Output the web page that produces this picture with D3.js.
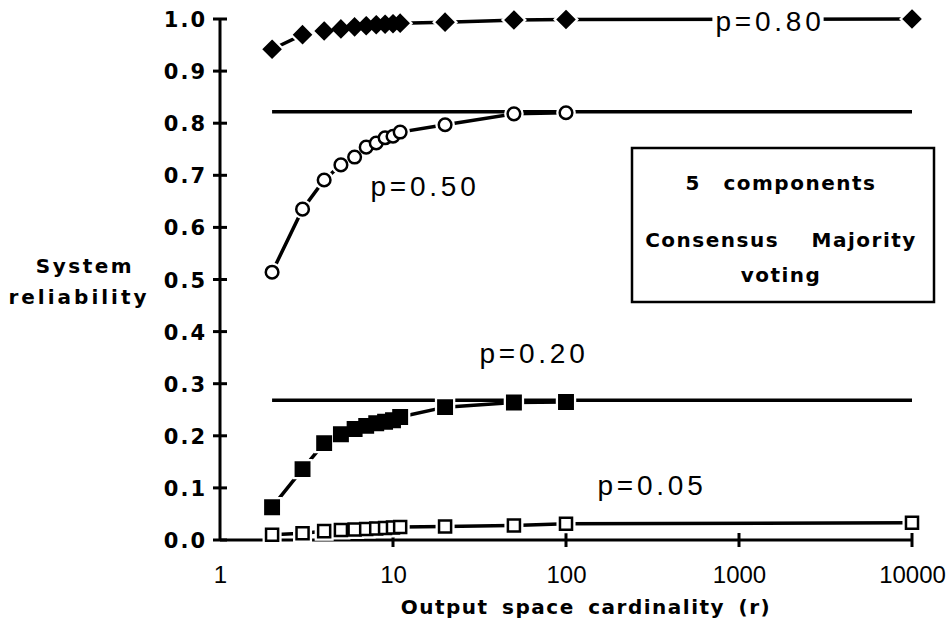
<!DOCTYPE html>
<meta charset="utf-8">
<script src="https://d3js.org/d3.v7.js"></script>
<style>
  body { margin: 0; background: #fff; }
  svg text { fill: #000; }
</style>
<body>
<div id="chart"></div>
<script>
  // output space cardinality values
  const rShort = [2, 3, 4, 5, 6, 7, 8, 9, 10, 11, 20, 50, 100];
  const rLong = [2, 3, 4, 5, 6, 7, 8, 9, 10, 11, 20, 50, 100, 10000];

  const p80 = [0.942, 0.970, 0.977, 0.981, 0.985, 0.987, 0.989, 0.990, 0.991, 0.992, 0.994, 0.998, 0.999, 1.0];
  const p50 = [0.514, 0.635, 0.691, 0.720, 0.735, 0.754, 0.762, 0.772, 0.775, 0.783, 0.797, 0.818, 0.820];
  const p20 = [0.063, 0.136, 0.186, 0.203, 0.213, 0.219, 0.224, 0.227, 0.230, 0.236, 0.255, 0.264, 0.265];
  const p05 = [0.010, 0.013, 0.017, 0.019, 0.020, 0.021, 0.022, 0.023, 0.024, 0.025, 0.026, 0.028, 0.031, 0.033];

  // limit lines
  const limitR = [2, 10000];
  const limits = [0.822, 0.268];

  const xTicks = [1, 10, 100, 1000, 10000];
  const yTicks = [0, 0.1, 0.2, 0.3, 0.4, 0.5, 0.6, 0.7, 0.8, 0.9, 1.0];

  const width = 952, height = 624;

  const svg = d3.select("#chart").append("svg")
    .attr("width", width)
    .attr("height", height);

  const x = d3.scaleLog().domain([1, 10000]).range([220, 912]);
  const y = d3.scaleLinear().domain([0, 1]).range([540, 19]);

  const font = "Liberation Sans, Arial, sans-serif";
  const boldFont = "DejaVu Sans, sans-serif";

  // axes
  const yAxis = svg.append("g").attr("transform", "translate(220,0)")
    .call(d3.axisLeft(y).tickValues(yTicks).tickSize(0).tickPadding(13)
      .tickFormat(d3.format(".1f")));
  yAxis.select(".domain").remove();
  yAxis.selectAll("text")
    .style("font-family", boldFont)
    .style("font-weight", "bold")
    .style("font-size", "21px")
    .style("letter-spacing", "2px")
    .attr("dy", "0.36em");

  svg.append("line")
    .attr("x1", 220).attr("x2", 220)
    .attr("y1", y(1)).attr("y2", y(0))
    .attr("stroke", "#000").attr("stroke-width", 3);
  svg.selectAll(".ytick").data(yTicks).join("line")
    .attr("x1", 213).attr("x2", 227)
    .attr("y1", d => y(d)).attr("y2", d => y(d))
    .attr("stroke", "#000").attr("stroke-width", 3);

  const xAxis = svg.append("g").attr("transform", "translate(0,540)")
    .call(d3.axisBottom(x).tickValues(xTicks).tickSize(0).tickPadding(26)
      .tickFormat(d3.format("d")));
  xAxis.select(".domain").remove();
  xAxis.selectAll("text")
    .style("font-family", font)
    .style("font-size", "24px");

  svg.append("line")
    .attr("x1", 220).attr("x2", x(10000))
    .attr("y1", 540).attr("y2", 540)
    .attr("stroke", "#000").attr("stroke-width", 3);
  svg.selectAll(".xtick").data(xTicks.slice(1)).join("line")
    .attr("x1", d => x(d)).attr("x2", d => x(d))
    .attr("y1", 533).attr("y2", 547)
    .attr("stroke", "#000").attr("stroke-width", 3);

  // axis titles
  function boldText(sel) {
    return sel.style("font-family", boldFont).style("font-weight", "bold").style("font-size", "20px");
  }

  boldText(svg.append("text").attr("x", 85).attr("y", 273).attr("text-anchor", "middle")
    .style("letter-spacing", "2.5px").text("System"));
  boldText(svg.append("text").attr("x", 79).attr("y", 304).attr("text-anchor", "middle")
    .style("letter-spacing", "3px").text("reliability"));
  boldText(svg.append("text").attr("x", 586).attr("y", 614).attr("text-anchor", "middle")
    .style("letter-spacing", "1.5px").style("word-spacing", "5px")
    .text("Output space cardinality (r)"));

  // limit lines
  limits.forEach(v => {
    svg.append("line")
      .attr("x1", x(limitR[0])).attr("x2", x(limitR[1]))
      .attr("y1", y(v)).attr("y2", y(v))
      .attr("stroke", "#000").attr("stroke-width", 3.5);
  });

  // series
  const series = [
    { r: rLong, v: p80, shape: d3.symbolDiamond2, size: 165, fill: "#000" },
    { r: rShort, v: p50, shape: d3.symbolCircle, size: 125, fill: "#fff" },
    { r: rShort, v: p20, shape: d3.symbolSquare, size: 180, fill: "#000" },
    { r: rLong, v: p05, shape: d3.symbolSquare, size: 145, fill: "#fff" }
  ];

  const line = d3.line().x(d => x(d[0])).y(d => y(d[1]));

  series.forEach(s => {
    const pts = s.r.map((r, i) => [r, s.v[i]]);
    svg.append("path")
      .attr("d", line(pts))
      .attr("fill", "none")
      .attr("stroke", "#000")
      .attr("stroke-width", 3.5);
    const sym = d3.symbol().type(s.shape).size(s.size);
    // white halo so the line stops short of each marker
    svg.append("g").selectAll("path").data(pts).join("path")
      .attr("d", sym)
      .attr("transform", d => `translate(${x(d[0])},${y(d[1])})`)
      .attr("fill", "#fff").attr("stroke", "#fff").attr("stroke-width", 7);
    svg.append("g").selectAll("path").data(pts).join("path")
      .attr("d", sym)
      .attr("transform", d => `translate(${x(d[0])},${y(d[1])})`)
      .attr("fill", s.fill).attr("stroke", "#000").attr("stroke-width", 2.5);
  });

  // p labels
  const labels = [
    { t: "p=0.80", x: 770, y: 31, bg: true },
    { t: "p=0.50", x: 425, y: 196 },
    { t: "p=0.20", x: 534, y: 363 },
    { t: "p=0.05", x: 652, y: 495 }
  ];
  labels.forEach(l => {
    const g = svg.append("g");
    const t = g.append("text")
      .attr("x", l.x).attr("y", l.y)
      .attr("text-anchor", "middle")
      .style("font-family", font)
      .style("font-size", "28px")
      .style("letter-spacing", "3.8px")
      .text(l.t);
    if (l.bg) {
      const b = t.node().getBBox();
      g.insert("rect", "text")
        .attr("x", b.x - 3).attr("y", b.y + 4)
        .attr("width", b.width + 2).attr("height", b.height - 8)
        .attr("fill", "#fff");
    }
  });

  // info box
  svg.append("rect")
    .attr("x", 632).attr("y", 148)
    .attr("width", 302).attr("height", 154)
    .attr("fill", "#fff").attr("stroke", "#000").attr("stroke-width", 2.5);
  [["5 components", 190, 14], ["Consensus Majority", 247, 24], ["voting", 282, 0]].forEach(d => {
    boldText(svg.append("text").attr("x", 781).attr("y", d[1]).attr("text-anchor", "middle")
      .style("letter-spacing", "1.5px").style("word-spacing", d[2] + "px")
      .text(d[0]));
  });
</script>
</body>
